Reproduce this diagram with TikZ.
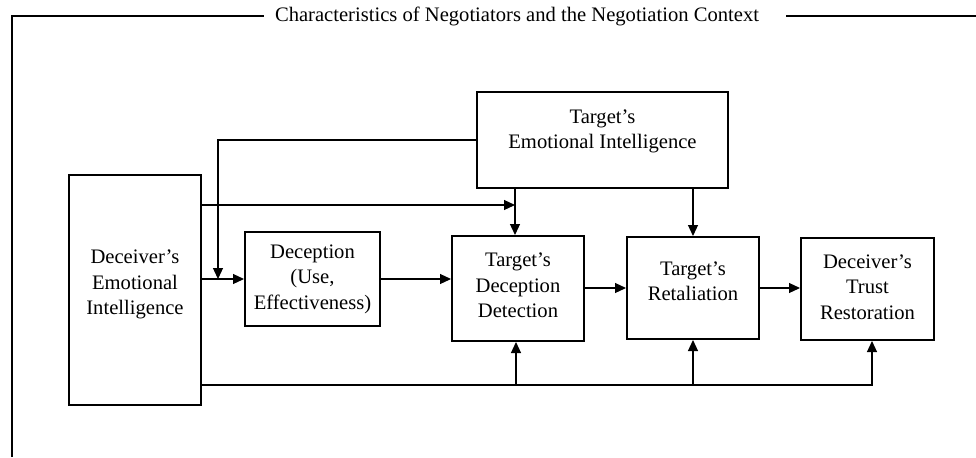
\documentclass[tikz,border=0pt]{standalone}
\usepackage{fontspec}
\setmainfont{Liberation Serif}
\usetikzlibrary{arrows.meta}

\tikzset{
  blk/.style={draw=black, line width=1pt, align=center, inner sep=1pt, font=\fontsize{10.3}{12.8}\selectfont},
  flow/.style={-{Triangle[length=5.5pt,width=5pt]}, line width=0.6pt},
  rule/.style={line width=0.6pt},
}

\begin{document}
\begin{tikzpicture}[x=0.5pt, y=-0.5pt]
\useasboundingbox (0,0) rectangle (976,457);
% frame round everything
\node[font=\fontsize{10.3}{12.8}\selectfont, inner sep=5.5pt] (title) at (517,16) {Characteristics of Negotiators and the Negotiation Context};
\coordinate (fbl) at (12,457);
\coordinate (ftl) at (12,16);
\coordinate (ftr) at (976,16);
\draw[rule] (fbl) -- (ftl) -- (title.west);
\draw[rule] ([xshift=8pt]title.east) -- (ftr);
% boxes
\node[blk, minimum width=66pt, minimum height=115pt, text depth=7.5pt] (DEI) at (135,290) {Deceiver’s\\Emotional\\Intelligence};
\node[blk, minimum width=67.5pt, minimum height=47pt] (DU) at (312.5,279) {Deception\\(Use,\\Effectiveness)};
\node[blk, minimum width=125.5pt, minimum height=48pt, text depth=11pt] (TEI) at (602.5,140) {Target’s\\Emotional Intelligence};
\node[blk, minimum width=66pt, minimum height=52.5pt, text depth=3pt] (TDD) at (518,288.5) {Target’s\\Deception\\Detection};
\node[blk, minimum width=66pt, minimum height=51pt, text depth=7pt] (TR) at (693,288) {Target’s\\Retaliation};
\node[blk, minimum width=66.5pt, minimum height=51pt, text depth=2pt] (DTR) at (867.5,289) {Deceiver’s\\Trust\\Restoration};
% joints
\coordinate (j1) at (218,279);
\coordinate (j2) at (515,205);
\coordinate (b1) at (516,385);
\coordinate (b2) at (693,385);
\coordinate (b3) at (872,385);
% main chain
\draw[flow] (DEI.east |- DU) -- (DU.west);
\draw[flow] (DU.east) -- (DU.east -| TDD.west);
\draw[flow] (TDD.east |- TR) -- (TR.west);
\draw[flow] (TR.east) -- (TR.east -| DTR.west);
% target EI links
\draw[flow] (TEI.west) -| (j1);
\draw[flow] (DEI.east |- j2) -- (j2);
\draw[flow] (TEI.south -| j2) -- (TDD.north -| j2);
\draw[flow] (TEI.south -| TR) -- (TR.north);
% bottom line
\draw[flow] (DEI.east |- b3) -| (DTR.south -| b3);
\draw[flow] (b1) -- (TDD.south -| b1);
\draw[flow] (b2) -- (TR.south -| b2);
\end{tikzpicture}
\end{document}
